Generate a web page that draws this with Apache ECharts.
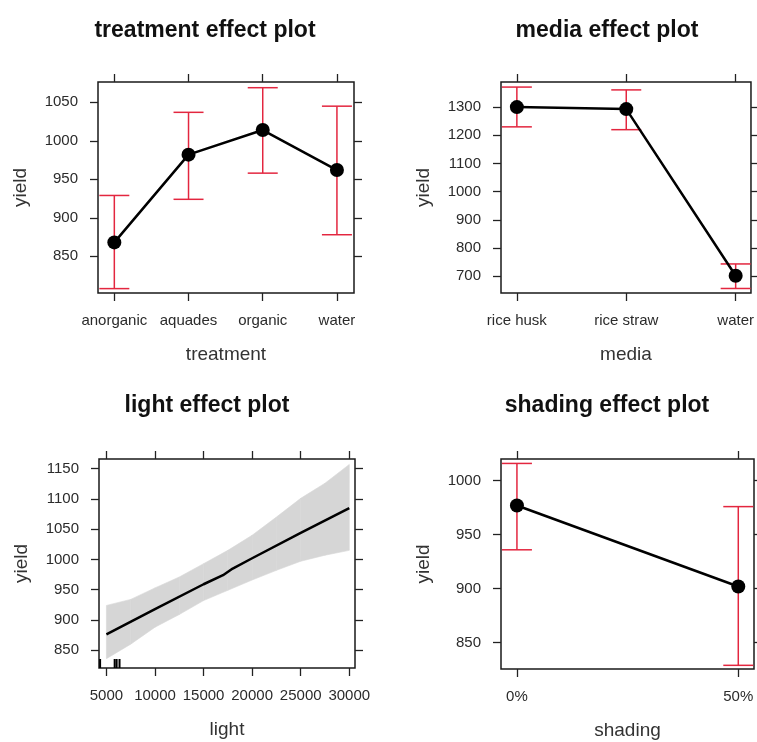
<!DOCTYPE html>
<html>
<head>
<meta charset="utf-8">
<script src="https://cdn.jsdelivr.net/npm/echarts@6/dist/echarts.min.js"></script>
<style>
  html, body { margin: 0; padding: 0; background: #fff; }
  #main { width: 757px; height: 742px; }
</style>
</head>
<body>
<div id="main"></div>
<script>
// treatment panel
const treatmentLevels = ['anorganic', 'aquades', 'organic', 'water'];
const treatmentFit = [868, 982, 1014, 962];
const treatmentLower = [808, 924, 958, 878];
const treatmentUpper = [929, 1037, 1069, 1045];
const treatmentTicks = [850, 900, 950, 1000, 1050];

// media panel
const mediaLevels = ['rice husk', 'rice straw', 'water'];
const mediaFit = [1300, 1293, 702];
const mediaLower = [1230, 1220, 657];
const mediaUpper = [1371, 1361, 744];
const mediaTicks = [700, 800, 900, 1000, 1100, 1200, 1300];

// light panel
const lightX = [5000, 10000, 15000, 17000, 18000, 20000, 25000, 30000];
const lightFit = [876, 918, 959, 974, 985, 1002, 1044, 1085];
const bandX = [5000, 7500, 10000, 12500, 15000, 17500, 20000, 22500, 25000, 27500, 30000];
const bandUpper = [924, 934, 953, 971, 993, 1015, 1040, 1070, 1101, 1126, 1157];
const bandLower = [836, 860, 888, 909, 932, 949, 966, 982, 997, 1007, 1015];
const lightRug = [4350, 5850, 6050, 6350];
const lightTicksX = [5000, 10000, 15000, 20000, 25000, 30000];
const lightTicksY = [850, 900, 950, 1000, 1050, 1100, 1150];

// shading panel
const shadingLevels = ['0%', '50%'];
const shadingFit = [977, 902];
const shadingLower = [936, 829];
const shadingUpper = [1016, 976];
const shadingTicks = [850, 900, 950, 1000];

const font = 'Liberation Sans, Arial, sans-serif';
const tickStyle = { color: '#222', width: 1.3 };

function bottomAxis(g, min, max, ticks, fmt, name) {
  return {
    type: 'value', gridIndex: g, position: 'bottom', min: min, max: max,
    name: name, nameLocation: 'middle', nameGap: 52,
    nameTextStyle: { fontSize: 19, color: '#333', fontFamily: font },
    axisLine: { show: false }, splitLine: { show: false },
    axisTick: { show: true, length: 8, customValues: ticks, lineStyle: tickStyle },
    axisLabel: { customValues: ticks, formatter: fmt, fontSize: 15, color: '#2b2b2b', margin: 20, fontFamily: font }
  };
}
function topAxis(g, min, max, ticks) {
  return {
    type: 'value', gridIndex: g, position: 'top', min: min, max: max,
    axisLine: { show: false }, splitLine: { show: false },
    axisTick: { show: true, length: 8, customValues: ticks, lineStyle: tickStyle },
    axisLabel: { show: false }
  };
}
function leftAxis(g, min, max, ticks) {
  return {
    type: 'value', gridIndex: g, position: 'left', min: min, max: max,
    name: 'yield', nameLocation: 'middle', nameGap: 68,
    nameTextStyle: { fontSize: 19, color: '#333', fontFamily: font },
    axisLine: { show: false }, splitLine: { show: false },
    axisTick: { show: true, length: 8, customValues: ticks, lineStyle: tickStyle },
    axisLabel: { customValues: ticks, formatter: v => String(v), fontSize: 15, color: '#2b2b2b', margin: 20, fontFamily: font }
  };
}
function rightAxis(g, min, max, ticks) {
  return {
    type: 'value', gridIndex: g, position: 'right', min: min, max: max,
    axisLine: { show: false }, splitLine: { show: false },
    axisTick: { show: true, length: 8, customValues: ticks, lineStyle: tickStyle },
    axisLabel: { show: false }
  };
}

function errorBars(g, lower, upper) {
  return {
    type: 'custom', xAxisIndex: 2 * g, yAxisIndex: 2 * g, z: 2,
    data: lower.map((l, i) => [i + 1, l, upper[i]]),
    renderItem: function (params, api) {
      const hi = api.coord([api.value(0), api.value(2)]);
      const lo = api.coord([api.value(0), api.value(1)]);
      const w = 15;
      const style = { stroke: '#e3263f', lineWidth: 1.5 };
      return {
        type: 'group',
        children: [
          { type: 'line', shape: { x1: hi[0], y1: hi[1], x2: lo[0], y2: lo[1] }, style: style },
          { type: 'line', shape: { x1: hi[0] - w, y1: hi[1], x2: hi[0] + w, y2: hi[1] }, style: style },
          { type: 'line', shape: { x1: lo[0] - w, y1: lo[1], x2: lo[0] + w, y2: lo[1] }, style: style }
        ]
      };
    }
  };
}
function fitLine(g, fit) {
  return {
    type: 'line', xAxisIndex: 2 * g, yAxisIndex: 2 * g, z: 3,
    data: fit.map((v, i) => [i + 1, v]),
    symbol: 'circle', symbolSize: 14,
    itemStyle: { color: '#000' },
    lineStyle: { color: '#000', width: 2.5 }
  };
}

const lightYMin = 820.6;

// band segments: [x0, lo0, hi0, x1, lo1, hi1]
const bandSegments = bandX.slice(0, -1).map((x, i) => [
  x, bandLower[i], bandUpper[i], bandX[i + 1], bandLower[i + 1], bandUpper[i + 1]
]);

const gridBase = { show: true, borderColor: '#1a1a1a', borderWidth: 1.5, backgroundColor: '#fff' };
const titleStyle = { fontSize: 23, fontWeight: 'bold', color: '#111', fontFamily: font };

const chart = echarts.init(document.getElementById('main'));
chart.setOption({
  animation: false,
  title: [
    { text: 'treatment effect plot', left: 200, top: 14, textAlign: 'center', textStyle: titleStyle },
    { text: 'media effect plot', left: 602, top: 14, textAlign: 'center', textStyle: titleStyle },
    { text: 'light effect plot', left: 202, top: 389, textAlign: 'center', textStyle: titleStyle },
    { text: 'shading effect plot', left: 602, top: 389, textAlign: 'center', textStyle: titleStyle }
  ],
  grid: [
    Object.assign({ left: 98, top: 82, width: 256, height: 211 }, gridBase),
    Object.assign({ left: 501, top: 82, width: 253, height: 211 }, gridBase),
    Object.assign({ left: 99, top: 459, width: 256, height: 209 }, gridBase),
    Object.assign({ left: 501, top: 459, width: 253, height: 210 }, gridBase)
  ],
  xAxis: [
    bottomAxis(0, 0.78, 4.23, [1, 2, 3, 4], v => treatmentLevels[Math.round(v) - 1], 'treatment'),
    topAxis(0, 0.78, 4.23, [1, 2, 3, 4]),
    bottomAxis(1, 0.855, 3.14, [1, 2, 3], v => mediaLevels[Math.round(v) - 1], 'media'),
    topAxis(1, 0.855, 3.14, [1, 2, 3]),
    bottomAxis(2, 4237, 30588, lightTicksX, v => String(v), 'light'),
    topAxis(2, 4237, 30588, lightTicksX),
    bottomAxis(3, 0.928, 2.071, [1, 2], v => shadingLevels[Math.round(v) - 1], 'shading'),
    topAxis(3, 0.928, 2.071, [1, 2])
  ],
  yAxis: [
    leftAxis(0, 802.3, 1076.4, treatmentTicks),
    rightAxis(0, 802.3, 1076.4, treatmentTicks),
    leftAxis(1, 641, 1389, mediaTicks),
    rightAxis(1, 641, 1389, mediaTicks),
    leftAxis(2, lightYMin, 1166, lightTicksY),
    rightAxis(2, lightYMin, 1166, lightTicksY),
    leftAxis(3, 825.6, 1020.1, shadingTicks),
    rightAxis(3, 825.6, 1020.1, shadingTicks)
  ],
  series: [
    errorBars(0, treatmentLower, treatmentUpper),
    fitLine(0, treatmentFit),
    errorBars(1, mediaLower, mediaUpper),
    fitLine(1, mediaFit),
    {
      type: 'custom', xAxisIndex: 4, yAxisIndex: 4, z: 1,
      data: bandSegments,
      renderItem: function (params, api) {
        const a = api.coord([api.value(0), api.value(1)]);
        const b = api.coord([api.value(3), api.value(4)]);
        const c = api.coord([api.value(3), api.value(5)]);
        const d = api.coord([api.value(0), api.value(2)]);
        return {
          type: 'polygon',
          shape: { points: [a, b, c, d] },
          style: { fill: '#d6d6d6', stroke: '#d6d6d6', lineWidth: 0.6 }
        };
      }
    },
    {
      type: 'line', xAxisIndex: 4, yAxisIndex: 4, symbol: 'none', z: 3,
      data: lightX.map((x, i) => [x, lightFit[i]]),
      lineStyle: { color: '#000', width: 2.5 }
    },
    {
      type: 'custom', xAxisIndex: 4, yAxisIndex: 4, z: 4,
      data: lightRug.map(v => [v]),
      renderItem: function (params, api) {
        const p = api.coord([api.value(0), lightYMin]);
        return {
          type: 'line',
          shape: { x1: p[0], y1: p[1], x2: p[0], y2: p[1] - 9 },
          style: { stroke: '#000', lineWidth: 2 }
        };
      }
    },
    errorBars(3, shadingLower, shadingUpper),
    fitLine(3, shadingFit)
  ]
});
</script>
</body>
</html>
